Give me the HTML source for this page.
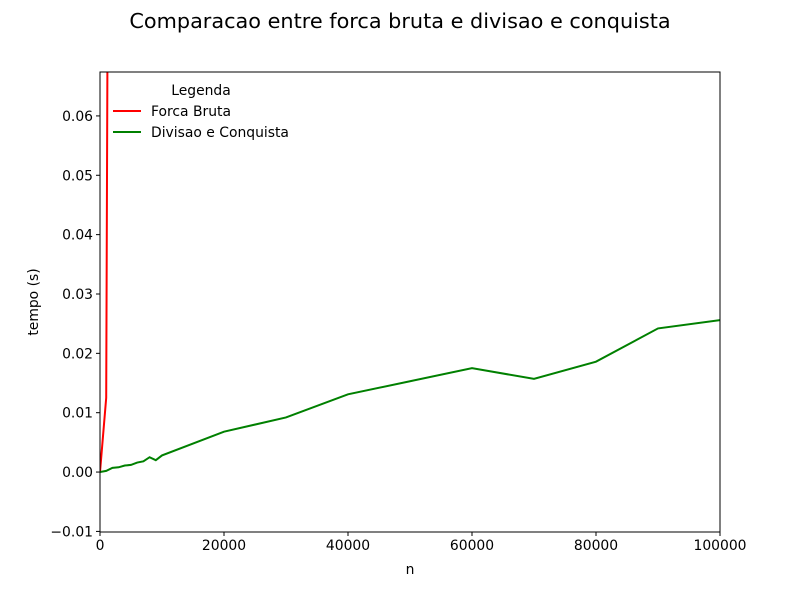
<!DOCTYPE html>
<html><head><meta charset="utf-8"><style>
body{margin:0;background:#fff;font-family:"Liberation Sans","DejaVu Sans",sans-serif;}
svg text{font-family:"DejaVu Sans","Liberation Sans",sans-serif;}
</style></head><body>
<svg id="chart" width="800" height="600" xmlns="http://www.w3.org/2000/svg">
<rect width="800" height="600" fill="#fff"/>
<text x="400" y="28" font-size="20.8" text-anchor="middle">Comparacao entre forca bruta e divisao e conquista</text>
<g id="axes"></g>
<g id="series"></g>
<rect x="100" y="72" width="620" height="460" fill="none" stroke="#000" stroke-width="1"/>
<g>
<text x="201" y="95" font-size="13.9" text-anchor="middle">Legenda</text>
<g><line x1="113" y1="111" x2="141" y2="111" stroke="red" stroke-width="2"/><text x="151" y="116" font-size="13.9">Forca Bruta</text></g>
<g><line x1="113" y1="132" x2="141" y2="132" stroke="green" stroke-width="2"/><text x="151" y="137" font-size="13.9">Divisao e Conquista</text></g>
</g>
<text x="410" y="574" font-size="13.9" text-anchor="middle">n</text>
<text transform="translate(38,302) rotate(-90)" font-size="13.9" text-anchor="middle">tempo (s)</text>
</svg>
<script>
const bruteN = [0, 1000, 2000];
const bruteT = [0, 0.0125, 0.3];
const dcN = [0,1000,2000,3000,4000,5000,6000,7000,8000,9000,10000,20000,30000,40000,50000,60000,70000,80000,90000,100000];
const dcT = [0,0.0002,0.0007,0.0008,0.0011,0.0012,0.0016,0.0018,0.0025,0.002,0.0028,0.0068,0.0092,0.0131,0.0153,0.0175,0.0157,0.0186,0.0242,0.0256];
const xTicks = [0,20000,40000,60000,80000,100000];
const yTicks = [-0.01,0,0.01,0.02,0.03,0.04,0.05,0.06];
const X0=100,X1=720,Y0=532,Y1=72,xmin=0,xmax=100000,ymin=-0.0101,ymax=0.0674;
const NS="http://www.w3.org/2000/svg";
function sx(v){return X0+(v-xmin)/(xmax-xmin)*(X1-X0);}
function sy(v){return Y0-(v-ymin)/(ymax-ymin)*(Y0-Y1);}
const axes=document.getElementById('axes');
function mk(tag,attrs,parent){const e=document.createElementNS(NS,tag);for(const k in attrs)e.setAttribute(k,attrs[k]);parent.appendChild(e);return e;}
xTicks.forEach(t=>{
  const g=mk('g',{},axes);
  
  
  mk('line',{x1:sx(t),x2:sx(t),y1:Y0,y2:Y0+4,stroke:'#000'},g);
  const tx=mk('text',{x:sx(t),y:Y0+18,'font-size':13.9,'text-anchor':'middle'},g);tx.textContent=t;
});
yTicks.forEach(t=>{
  const g=mk('g',{},axes);
  
  
  mk('line',{x1:X0-4,x2:X0,y1:sy(t),y2:sy(t),stroke:'#000'},g);
  const tx=mk('text',{x:X0-7,y:sy(t)+5,'font-size':13.9,'text-anchor':'end'},g);tx.textContent=(t<0?'\u2212':'')+Math.abs(t).toFixed(2);
});
const series=document.getElementById('series');
const cp=mk('clipPath',{id:'clip'},series);mk('rect',{x:X0,y:Y1,width:X1-X0,height:Y0-Y1},cp);
function line(ns,ts,color,name){
  const p=mk('polyline',{points:ns.map((n,i)=>sx(n)+','+sy(ts[i])).join(' '),fill:'none',stroke:color,'stroke-width':2,'clip-path':'url(#clip)'},series);
  
  
}
line(bruteN,bruteT,'red','forca-bruta-line');
line(dcN,dcT,'green','divisao-conquista-line');
</script>
</body></html>
